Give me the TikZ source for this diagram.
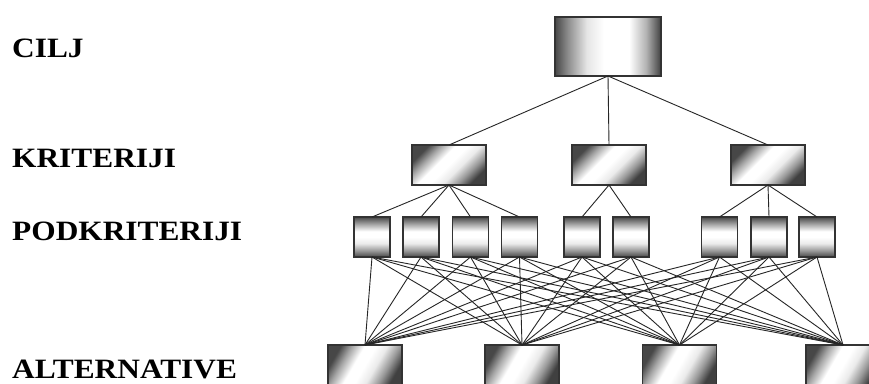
\documentclass[tikz,border=0pt]{standalone}
\usepackage{fontspec}
\setmainfont{Liberation Serif}
\pgfdeclarehorizontalshading{cylh}{100bp}{color(0bp)=(black!72); color(25bp)=(black!72); color(31bp)=(black!45); color(40bp)=(black!10); color(48bp)=(white); color(60bp)=(white); color(68bp)=(black!30); color(75bp)=(black!75); color(100bp)=(black!75)}
\pgfdeclareverticalshading{cylv}{100bp}{color(0bp)=(black!72); color(25bp)=(black!72); color(33bp)=(black!40); color(42bp)=(black!8); color(50bp)=(white); color(57bp)=(white); color(66bp)=(black!35); color(75bp)=(black!72); color(100bp)=(black!72)}
\pgfdeclareverticalshading{diagsh}{100bp}{color(0bp)=(black!75); color(25bp)=(black!75); color(33bp)=(black!40); color(42bp)=(black!8); color(50bp)=(white); color(58bp)=(white); color(67bp)=(black!35); color(75bp)=(black!72); color(100bp)=(black!72)}
\begin{document}
\begin{tikzpicture}[x=1pt,y=-1pt,
 box/.style={draw=black!80, line width=1.1pt, inner sep=0pt, outer sep=0pt},
 goalbox/.style={box, minimum width=106pt, minimum height=59pt, shading=cylh},
 critbox/.style={box, minimum width=74pt, minimum height=40pt, shading=diagsh, shading angle=45},
 subbox/.style={box, minimum width=36pt, minimum height=40pt, shading=cylv},
 altbox/.style={box, minimum width=74pt, minimum height=40pt, shading=diagsh, shading angle=60},
 link/.style={draw=black!85, line width=0.9pt},
 lbl/.style={anchor=base west, inner sep=0pt, font=\fontsize{28}{30}\selectfont\bfseries}
]
\useasboundingbox (0,0) rectangle (869,383);
\clip (0,0) rectangle (869,383);
\fill[white] (0,0) rectangle (869,383);

% labels
\node[lbl] (lcilj) at (12,57) {\scalebox{1.12}[1]{CILJ}};
\node[lbl] (lkrit) at (12,167) {\scalebox{1.12}[1]{KRITERIJI}};
\node[lbl] (lpod) at (12,240) {\scalebox{1.12}[1]{PODKRITERIJI}};
\node[lbl] (lalt) at (12,378) {\scalebox{1.12}[1]{ALTERNATIVE}};

% goal
\node[goalbox] (g) at (608,46.5) {};
% criteria
\node[critbox] (c1) at (449,165) {};
\node[critbox] (c2) at (609,165) {};
\node[critbox] (c3) at (768,165) {};
% subcriteria
\node[subbox] (s1) at (372,237) {};
\node[subbox] (s2) at (421,237) {};
\node[subbox] (s3) at (470.5,237) {};
\node[subbox] (s4) at (519.5,237) {};
\node[subbox] (s5) at (582,237) {};
\node[subbox] (s6) at (631,237) {};
\node[subbox] (s7) at (719.5,237) {};
\node[subbox] (s8) at (769,237) {};
\node[subbox] (s9) at (817,237) {};
% alternatives
\node[altbox] (a1) at (365,365) {};
\node[altbox] (a2) at (522,365) {};
\node[altbox] (a3) at (679.5,365) {};
\node[altbox] (a4) at (843,365) {};

% connectors
\foreach \c in {c1,c2,c3} \draw[link] (g.south) -- (\c.north);
\foreach \s in {s1,s2,s3,s4} \draw[link] (c1.south) -- (\s.north);
\foreach \s in {s5,s6} \draw[link] (c2.south) -- (\s.north);
\foreach \s in {s7,s8,s9} \draw[link] (c3.south) -- (\s.north);
\foreach \s in {s1,s2,s3,s4,s5,s6,s7,s8,s9}
  \foreach \a in {a1,a2,a3,a4}
    \draw[link] (\s.south) -- (\a.north);
\end{tikzpicture}
\end{document}
